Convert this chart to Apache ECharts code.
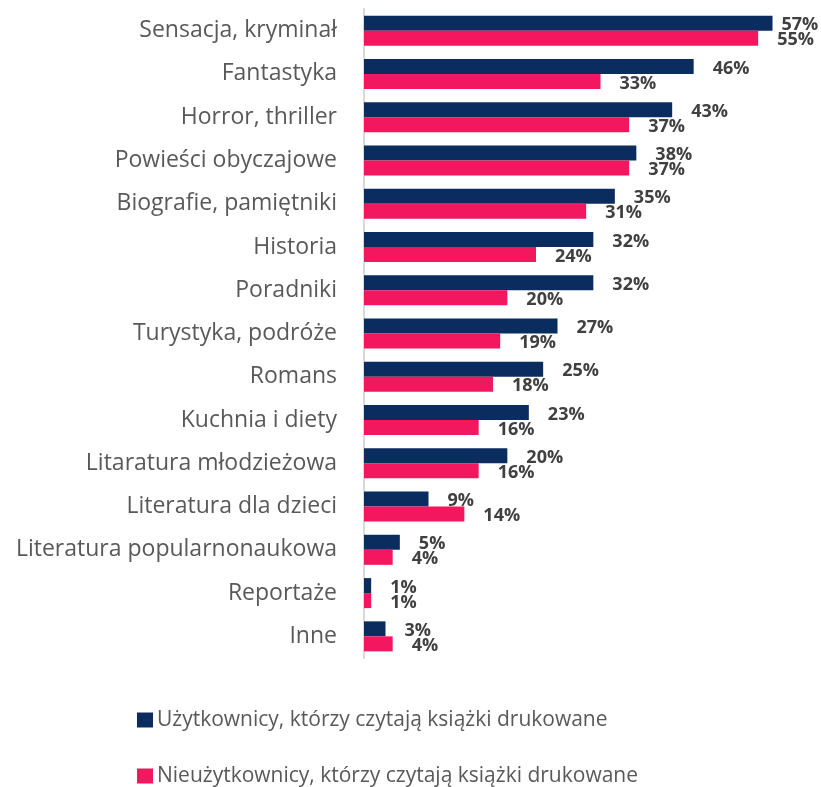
<!DOCTYPE html>
<html>
<head>
<meta charset="utf-8">
<script src="https://cdn.jsdelivr.net/npm/echarts@6/dist/echarts.min.js"></script>
<style>
  html, body { margin: 0; padding: 0; background: #fff; }
  #chart { width: 821px; height: 787px; }
</style>
</head>
<body>
<div id="chart"></div>
<script>
// kategorie (od góry do dołu)
const categories = [
  'Sensacja, kryminał', 'Fantastyka', 'Horror, thriller', 'Powieści obyczajowe',
  'Biografie, pamiętniki', 'Historia', 'Poradniki', 'Turystyka, podróże',
  'Romans', 'Kuchnia i diety', 'Litaratura młodzieżowa', 'Literatura dla dzieci',
  'Literatura popularnonaukowa', 'Reportaże', 'Inne'
];
const seriesNames = [
  'Użytkownicy, którzy czytają książki drukowane',
  'Nieużytkownicy, którzy czytają książki drukowane'
];
const users = [57, 46, 43, 38, 35, 32, 32, 27, 25, 23, 20, 9, 5, 1, 3];
const nonUsers = [55, 33, 37, 37, 31, 24, 20, 19, 18, 16, 16, 14, 4, 1, 4];

const font = '"Open Sans", sans-serif';
const chart = echarts.init(document.getElementById('chart'));

const barLabel = {
  show: true,
  position: 'right',
  distance: 19,
  offset: [0, 2],
  formatter: '{c}%',
  fontFamily: font,
  fontWeight: 'bold',
  fontSize: 18,
  color: '#404040'
};

// najdłuższa etykieta jest dosunięta bliżej słupka (brak miejsca przy krawędzi)
const userData = users.map((v, i) => i === 0 ? { value: v, label: { distance: 9 } } : v);

const legendBase = {
  orient: 'vertical',
  left: 137,
  padding: 0,
  itemWidth: 16,
  itemHeight: 15,
  itemGap: 0,
  icon: 'rect',
  textStyle: { fontFamily: font, fontSize: 21, color: '#595959', lineHeight: 24, padding: [0, 0, 0, -1] }
};

chart.setOption({
  animation: false,
  grid: { left: 364, top: 9, width: 430, height: 649 },
  xAxis: {
    type: 'value',
    min: 0,
    max: 60,
    show: false
  },
  yAxis: {
    type: 'category',
    inverse: true,
    data: categories,
    axisTick: { show: false },
    axisLine: { lineStyle: { color: '#d9d9d9', width: 2 } },
    axisLabel: { fontFamily: font, fontSize: 23, color: '#595959', margin: 27 }
  },
  legend: [
    Object.assign({}, legendBase, { top: 708, data: [seriesNames[0]] }),
    Object.assign({}, legendBase, { top: 764, data: [seriesNames[1]] })
  ],
  series: [
    {
      name: seriesNames[0],
      type: 'bar',
      data: userData,
      barWidth: 15,
      barGap: '0%',
      itemStyle: { color: '#0b2c5f' },
      label: barLabel
    },
    {
      name: seriesNames[1],
      type: 'bar',
      data: nonUsers,
      barWidth: 15,
      barGap: '0%',
      itemStyle: { color: '#f2175f' },
      label: barLabel
    }
  ]
});
</script>
</body>
</html>
